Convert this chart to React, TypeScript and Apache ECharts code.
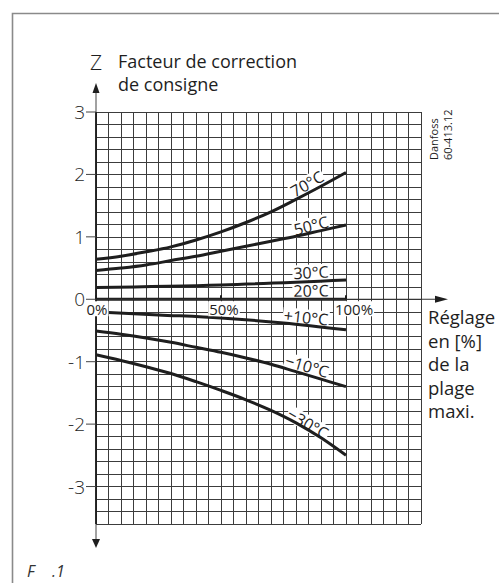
import React, { useEffect, useRef } from "react";
import * as echarts from "echarts";

// ---- data ----
const xPct = [0, 10, 20, 30, 40, 50, 60, 70, 80, 90, 100];
const z70 = [0.64, 0.69, 0.76, 0.84, 0.95, 1.08, 1.23, 1.4, 1.6, 1.81, 2.03];
const z50 = [0.46, 0.5, 0.55, 0.62, 0.69, 0.77, 0.85, 0.93, 1.01, 1.1, 1.19];
const x30 = [0, 50, 100];
const z30 = [0.19, 0.23, 0.31];
const x20 = [0, 100];
const z20 = [0, 0];
const xP10 = [5, 25, 50, 75, 100];
const zP10 = [-0.21, -0.25, -0.3, -0.38, -0.49];
const zM10 = [-0.51, -0.56, -0.62, -0.69, -0.77, -0.85, -0.94, -1.04, -1.16, -1.28, -1.4];
const zM30 = [-0.89, -0.98, -1.08, -1.19, -1.32, -1.46, -1.61, -1.78, -1.98, -2.22, -2.5];

const labelText = ["70°C", "50°C", "30°C", "20°C", "+10°C", "−10°C", "−30°C"];
const labelX = [84.4, 86, 86, 86, 84, 84.4, 84.8];
const labelY = [1.85, 1.18, 0.43, 0.14, -0.29, -1.07, -1.99];
const labelRot = [30, 14, 3, 1, -6, -16, -30];

const yTicks = [-3, -2, -1, 0, 1, 2, 3];
const xTickLabels = [0, 50, 100];

const X_MIN = 0;
const X_MAX = 130;
const Y_MIN = -3.6;
const Y_MAX = 3;

const FONT = "'Open Sans', 'Noto Sans', sans-serif";
const INK = "#1e1e1e";

function curve(xs: number[], ys: number[]) {
  return {
    type: "line",
    data: xs.map((x, i) => [x, ys[i]]),
    smooth: 0.35,
    symbol: "none",
    lineStyle: { color: INK, width: 3 },
    z: 4,
    silent: true,
  };
}

export default function App() {
  const ref = useRef<HTMLDivElement>(null);
  useEffect(() => {
    if (!ref.current) return;
    const chart = echarts.init(ref.current, undefined, { renderer: "svg" });
    const option: any = {
      animation: false,
      backgroundColor: "#fff",
      grid: { left: 96, top: 112, right: 78, bottom: 59, containLabel: false, outerBoundsMode: "none" },
      xAxis: {
        type: "value",
        min: X_MIN,
        max: X_MAX,
        interval: 5,
        axisLine: { show: false },
        axisTick: { show: false },
        axisLabel: { show: false },
        splitLine: { show: true, lineStyle: { color: "#3c3c3c", width: 1 } },
      },
      yAxis: {
        type: "value",
        min: Y_MIN,
        max: Y_MAX,
        interval: 0.2,
        axisLine: { show: false },
        axisTick: { show: false },
        splitLine: { show: true, lineStyle: { color: "#3c3c3c", width: 1 } },
        axisLabel: {
          margin: 11,
          fontSize: 19,
          fontFamily: FONT,
          fontWeight: 300,
          color: INK,
          formatter: (v: number) => {
            const r = Math.round(v);
            if (Math.abs(v - r) > 1e-6 || yTicks.indexOf(r) < 0) return "";
            return `${r}`;
          },
        },
      },
      series: [
        curve(xPct, z70),
        curve(xPct, z50),
        curve(x30, z30),
        curve(x20, z20),
        curve(xP10, zP10),
        curve(xPct, zM10),
        curve(xPct, zM30),
        {
          type: "custom",
          clip: false,
          silent: true,
          z: 5,
          data: [[0, 0]],
          renderItem: (_p: any, api: any) => {
            const top = api.coord([X_MIN, Y_MAX]);
            const bot = api.coord([X_MIN, Y_MIN]);
            const o = api.coord([X_MIN, 0]);
            const xEnd = api.coord([X_MAX, 0]);
            const x = top[0];
            const children: any[] = [
              { type: "line", shape: { x1: x, y1: top[1] - 21, x2: x, y2: bot[1] + 16 }, style: { stroke: "#444", lineWidth: 1 } },
              { type: "line", shape: { x1: x, y1: top[1], x2: x, y2: bot[1] }, style: { stroke: INK, lineWidth: 1.8 } },
              { type: "polygon", shape: { points: [[x, top[1] - 29], [x - 3.5, top[1] - 19], [x + 3.5, top[1] - 19]] }, style: { fill: INK } },
              { type: "polygon", shape: { points: [[x, bot[1] + 24], [x - 4, bot[1] + 15], [x + 4, bot[1] + 15]] }, style: { fill: INK } },
              { type: "line", shape: { x1: o[0], y1: o[1], x2: xEnd[0] + 15, y2: o[1] }, style: { stroke: "#333", lineWidth: 1.2 } },
              { type: "polygon", shape: { points: [[xEnd[0] + 27, o[1]], [xEnd[0] + 14, o[1] - 3.5], [xEnd[0] + 14, o[1] + 3.5]] }, style: { fill: INK } },
            ];
            yTicks.forEach((t) => {
              const p = api.coord([X_MIN, t]);
              children.push({ type: "line", shape: { x1: p[0] - 10, y1: p[1], x2: p[0], y2: p[1] }, style: { stroke: "#444", lineWidth: 1 } });
            });
            xTickLabels.forEach((t) => {
              const p = api.coord([t, 0]);
              children.push({ type: "line", shape: { x1: p[0], y1: p[1] - 4, x2: p[0], y2: p[1] }, style: { stroke: INK, lineWidth: 2 } });
              children.push({
                type: "text",
                x: p[0] + (t === 100 ? 8 : t === 50 ? 3 : 1),
                y: p[1] + 2,
                style: {
                  text: `${t}%`,
                  fontSize: 15,
                  fontFamily: FONT,
                  fill: INK,
                  align: "center",
                  verticalAlign: "top",
                  backgroundColor: "#fff",
                  padding: [0, 1, 0, 1],
                },
              });
            });
            return { type: "group", children };
          },
        },
        {
          type: "custom",
          clip: false,
          silent: true,
          z: 3,
          data: labelX.map((x, i) => [x, labelY[i]]),
          renderItem: (params: any, api: any) => {
            const i = params.dataIndex;
            const p = api.coord([api.value(0), api.value(1)]);
            return {
              type: "text",
              x: p[0],
              y: p[1],
              rotation: (labelRot[i] * Math.PI) / 180,
              style: {
                text: labelText[i],
                fontSize: 16,
                fontFamily: FONT,
                fill: INK,
                align: "center",
                verticalAlign: "middle",
                backgroundColor: "#fff",
                padding: [0, 1, 0, 1],
              },
            };
          },
        },
      ],
      graphic: [
        { type: "polyline", shape: { points: [[12.5, 583], [12.5, 13.5], [499, 13.5]] }, style: { stroke: "#8a8a8a", lineWidth: 1.6, fill: "none" }, silent: true },
        { type: "text", x: 96, y: 62, style: { text: "Z", fontSize: 21, fontWeight: 300, fontFamily: FONT, fill: INK, align: "center", verticalAlign: "middle" } },
        { type: "text", x: 118, y: 61, style: { text: "Facteur de correction", fontSize: 18, lineHeight: 20, fontFamily: FONT, fill: INK, align: "left", verticalAlign: "middle" } },
        { type: "text", x: 118, y: 84, style: { text: "de consigne", fontSize: 18, lineHeight: 20, fontFamily: FONT, fill: INK, align: "left", verticalAlign: "middle" } },
        { type: "text", x: 428, y: 305, style: { text: "Réglage\nen [%]\nde la\nplage\nmaxi.", fontSize: 18.5, lineHeight: 23.5, fontFamily: FONT, fill: INK, align: "left", verticalAlign: "top" } },
        { type: "text", x: 433, y: 160, rotation: Math.PI / 2, style: { text: "Danfoss", fontSize: 11, fontFamily: FONT, fill: INK, align: "left", verticalAlign: "middle" } },
        { type: "text", x: 447, y: 160, rotation: Math.PI / 2, style: { text: "60-413.12", fontSize: 11, fontFamily: FONT, fill: INK, align: "left", verticalAlign: "middle" } },
        { type: "text", x: 27, y: 571, style: { text: "F", fontSize: 16, fontStyle: "italic", fontFamily: FONT, fill: "#333", align: "left", verticalAlign: "middle" } },
        { type: "text", x: 52, y: 571, style: { text: ".1", fontSize: 16, fontStyle: "italic", fontFamily: FONT, fill: "#333", align: "left", verticalAlign: "middle" } },
      ],
    };
    chart.setOption(option);
    return () => chart.dispose();
  }, []);
  return <div ref={ref} style={{ position: "fixed", left: 0, top: 0, width: 499, height: 583 }} />;
}
